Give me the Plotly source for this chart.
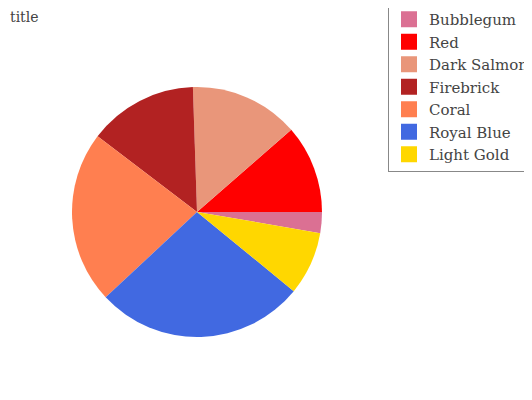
import plotly.graph_objects as go

labels = ["Bubblegum", "Red", "Dark Salmon", "Firebrick", "Coral", "Royal Blue", "Light Gold"]
values = [2.7, 11.4, 14.1, 14.1, 22.3, 27.1, 8.2]
colors = ["#DB7093", "#FF0000", "#E9967A", "#B22222", "#FF7F50", "#4169E1", "#FFD700"]

W, H = 532, 400
OFF = 8  # page body margin
cx, cy, r = 197 - OFF, 212 - OFF, 125

fig = go.Figure(go.Pie(
    labels=labels, values=values, sort=False, direction="counterclockwise",
    rotation=90, textinfo="none", hoverinfo="label+value", showlegend=False,
    marker=dict(colors=colors, line=dict(width=0)),
    domain=dict(x=[(cx - r) / W, (cx + r) / W], y=[1 - (cy + r) / H, 1 - (cy - r) / H]),
))
# legend entries with larger square swatches
for lab, col in zip(labels, colors):
    fig.add_trace(go.Scatter(x=[None], y=[None], mode="markers", name=lab,
                             marker=dict(symbol="square", size=17, color=col),
                             hoverinfo="skip"))
fig.update_xaxes(visible=False)
fig.update_yaxes(visible=False)
fig.update_layout(
    width=W, height=H,
    margin=dict(l=0, r=0, t=0, b=0, autoexpand=False),
    paper_bgcolor="white", plot_bgcolor="rgba(0,0,0,0)",
    font=dict(family="DejaVu Serif", color="#444"),
    title=dict(text="title", x=(10 - OFF) / W, xanchor="left", y=1 - (17 - OFF) / H, yanchor="middle",
               font=dict(family="DejaVu Serif", size=14, color="#444")),
    legend=dict(x=(388 - OFF) / W, xanchor="left", y=1.015, yanchor="top", itemsizing="trace",
                bordercolor="#888", borderwidth=1, font=dict(family="DejaVu Serif", size=15, color="#444"),
                traceorder="normal"),
)
fig.write_html("out.html")
